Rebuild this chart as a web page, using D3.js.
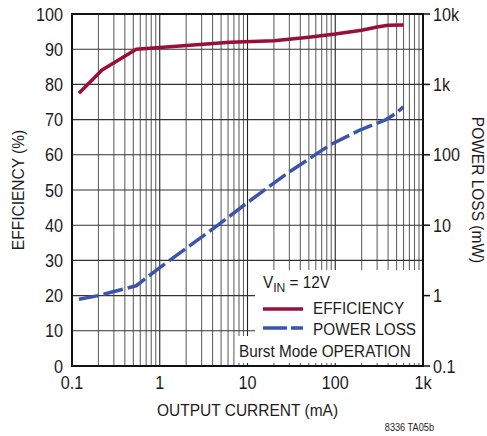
<!DOCTYPE html>
<html>
<head>
<meta charset="utf-8">
<script src="https://d3js.org/d3.v7.min.js"></script>
<style>
  body { margin: 0; background: #fff; }
  svg { display: block; }
</style>
</head>
<body>
<svg id="chart" width="487" height="436"></svg>
<script>
// efficiency curve (%)
var effCurrent = [0.12, 0.22, 0.54, 1.7, 6.3, 20, 50, 100, 200, 300, 400, 600];
var effValue   = [77.5, 84.1, 90.0, 90.9, 92.0, 92.4, 93.4, 94.3, 95.4, 96.3, 96.8, 96.9];
// power loss curve (mW)
var lossCurrent = [0.12, 0.2, 0.54, 1, 4.6, 10, 28, 87, 191, 386, 500, 597];
var lossValue   = [0.89, 1.0, 1.38, 2.5, 10, 21, 54, 138, 225, 319, 395, 482];

var xTicks = [0.1, 1, 10, 100, 1000];
var xTickLabels = ["0.1", "1", "10", "100", "1k"];
var effTicks = [0, 10, 20, 30, 40, 50, 60, 70, 80, 90, 100];
var lossTicks = [0.1, 1, 10, 100, 1000, 10000];
var lossTickLabels = ["0.1", "1", "10", "100", "1k", "10k"];

var RED = "#9a0f3a", BLUE = "#3a56aa";
var FONT = "'Liberation Sans', Arial, Helvetica, sans-serif";

var svg = d3.select("#chart");
var L = 72, R = 423, T = 14, B = 366;

var x = d3.scaleLog().domain([0.1, 1000]).range([L, R]);
var yEff = d3.scaleLinear().domain([0, 100]).range([B, T]);
var yLoss = d3.scaleLog().domain([0.1, 10000]).range([B, T]);

// condensed-looking text helper
function label(g, px, py, txt, anchor, size, sx, rot) {
  var t = g.append("g")
    .attr("transform", "translate(" + px + "," + py + ")" + (rot ? " rotate(" + rot + ")" : "") + " scale(" + sx + ",1)")
    .append("text")
    .attr("text-anchor", anchor)
    .attr("font-family", FONT)
    .attr("font-size", size)
    .attr("fill", "#1e1b1c")
    .text(txt);
  return t;
}

// vertical grid (1..9 per decade)
var minor = [];
[0.1, 1, 10, 100].forEach(function(d) {
  for (var k = 1; k <= 9; k++) minor.push(d * k);
});
svg.append("g").selectAll("line").data(minor).join("line")
  .attr("x1", d => x(d)).attr("x2", d => x(d))
  .attr("y1", T).attr("y2", B)
  .attr("stroke", d => xTicks.indexOf(d) >= 0 ? "#222" : "#666")
  .attr("stroke-width", 1.1);

// horizontal grid
svg.append("g").selectAll("line").data(effTicks).join("line")
  .attr("x1", L).attr("x2", R)
  .attr("y1", d => yEff(d)).attr("y2", d => yEff(d))
  .attr("stroke", "#333")
  .attr("stroke-width", 1.1);

// legend background covers the grid
svg.append("rect").attr("x", 255).attr("y", 270).attr("width", 167).attr("height", 67).attr("fill", "#fff");
svg.append("rect").attr("x", 235).attr("y", 336).attr("width", 187).attr("height", 27).attr("fill", "#fff");

// frame
svg.append("rect").attr("x", L).attr("y", T).attr("width", R - L).attr("height", B - T)
  .attr("fill", "none").attr("stroke", "#111").attr("stroke-width", 2);

// curves
var line = d3.line();
svg.append("path")
  .attr("d", line(effCurrent.map((c, i) => [x(c), yEff(effValue[i])])))
  .attr("fill", "none").attr("stroke", RED).attr("stroke-width", 3.5)
  .attr("stroke-linejoin", "round");
svg.append("path")
  .attr("d", line(lossCurrent.map((c, i) => [x(c), yLoss(lossValue[i])])))
  .attr("fill", "none").attr("stroke", BLUE).attr("stroke-width", 3.5)
  .attr("stroke-linejoin", "round")
  .attr("stroke-dasharray", "20,5");

// left axis labels
var g = svg.append("g");
effTicks.forEach(function(d) {
  label(g, 63, yEff(d) + 6.5, d, "end", 18, 0.9);
});
// bottom axis labels
xTicks.forEach(function(d, i) {
  label(g, x(d), 389, xTickLabels[i], "middle", 18, 0.9);
});
// right axis ticks + labels
svg.append("g").selectAll("line").data(lossTicks).join("line")
  .attr("x1", R).attr("x2", R + 7)
  .attr("y1", d => yLoss(d)).attr("y2", d => yLoss(d))
  .attr("stroke", "#111").attr("stroke-width", 1.5);
lossTicks.forEach(function(d, i) {
  label(g, 433, yLoss(d) + 6.5, lossTickLabels[i], "start", 18, 0.9);
});

// axis titles
label(g, (L + R) / 2, 416, "OUTPUT CURRENT (mA)", "middle", 16.5, 0.94);
label(g, 24, (T + B) / 2, "EFFICIENCY (%)", "middle", 16.5, 0.94, -90);
label(g, 472, (T + B) / 2, "POWER LOSS (mW)", "middle", 16.5, 0.94, 90);
label(g, 434, 431, "8336 TA05b", "end", 10, 0.92);

// legend
var vin = label(g, 263, 288, "V", "start", 16.5, 0.93);
vin.append("tspan").attr("dy", 4).attr("font-size", 13).text("IN");
vin.append("tspan").attr("dy", -4).text(" = 12V");
svg.append("line").attr("x1", 263).attr("x2", 303).attr("y1", 309).attr("y2", 309)
  .attr("stroke", RED).attr("stroke-width", 3.5);
svg.append("line").attr("x1", 263).attr("x2", 303).attr("y1", 328).attr("y2", 328)
  .attr("stroke", BLUE).attr("stroke-width", 3.5).attr("stroke-dasharray", "24,4");
label(g, 313, 314, "EFFICIENCY", "start", 16.5, 0.93);
label(g, 313, 335, "POWER LOSS", "start", 16.5, 0.93);
label(g, 239, 357, "Burst Mode OPERATION", "start", 16.5, 0.93);
</script>
</body>
</html>
